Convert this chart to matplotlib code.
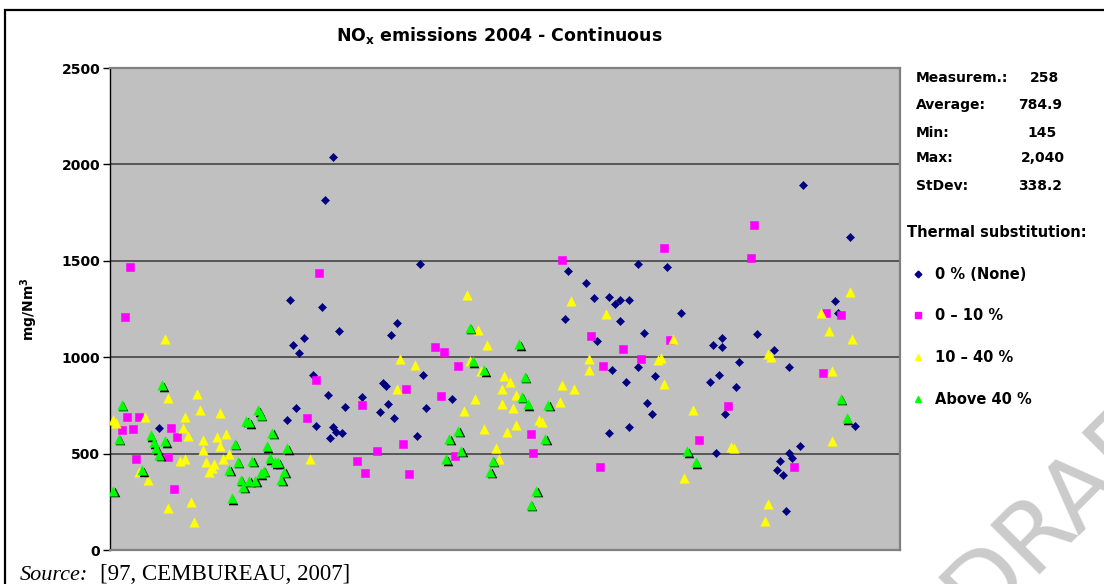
import matplotlib
matplotlib.use("Agg")
import matplotlib.pyplot as plt
import matplotlib.transforms as mtransforms
from matplotlib.lines import Line2D
from matplotlib.patches import Rectangle

plt.rcParams['font.family'] = ['DejaVu Sans']
plt.rcParams['mathtext.fontset'] = 'dejavusans'

# ---------------- data (measurement number, mg/Nm3) ----------------
title_main = "NO$_\\mathbf{x}$ emissions 2004 - Continuous"
y_label = "mg/Nm$^\\mathbf{3}$"
y_ticks = [0, 500, 1000, 1500, 2000, 2500]
series_labels = ["0 % (None)", "0 \u2013 10 %", "10 \u2013 40 %", "Above 40 %"]

none_x = [77, 74, 62, 73, 79, 67, 63, 65, 70, 75, 87, 64, 81, 61, 71, 77, 78, 80, 76, 17,
          107, 99, 97, 108, 94, 95, 96, 93, 98, 118, 109, 106,
          158, 164, 167, 172, 174, 176, 179, 157, 176, 168, 173, 178, 172, 179,
          239, 255, 182, 192, 197, 184, 223, 211, 208, 211, 229, 217, 182, 234, 188, 210,
          207, 216, 185, 187, 212, 257, 238, 234, 209, 231, 235, 230, 232, 233, 250, 251]
none_y = [2040, 1816, 1298, 1262, 1135, 1099, 1064, 1021, 908, 806, 796, 738, 744, 674, 645, 638, 614, 607, 581, 631,
          1482, 1179, 1113, 906, 867, 853, 757, 714, 686, 785, 737, 589,
          1447, 1383, 1305, 1314, 1278, 1298, 1298, 1199, 1186, 1083, 936, 872, 607, 638,
          1894, 1624, 1482, 1470, 1227, 1128, 1120, 1099, 1064, 1054, 1036, 975, 948, 948, 900, 906,
          872, 843, 764, 707, 707, 645, 537, 503, 501, 464, 478, 416, 388, 204, 1291, 1229]

low_x = [7, 5, 72, 71, 87, 68, 6, 10, 4, 8, 21, 23, 20, 9, 22, 85, 88,
         156, 112, 115, 120, 102, 114, 101, 92, 103, 166, 177, 170, 145, 146, 119, 169,
         222, 191, 221, 247, 252, 193, 183, 246, 213, 203, 236]
low_y = [1466, 1208, 1437, 882, 754, 683, 690, 690, 620, 626, 634, 586, 484, 470, 314, 463, 399,
         1503, 1052, 1026, 953, 837, 797, 549, 513, 392, 1109, 1045, 953, 603, 502, 485, 431,
         1686, 1565, 1517, 1229, 1219, 1088, 990, 919, 747, 568, 432]

mid_x = [19, 1, 2, 12, 30, 20, 31, 38, 26, 25, 27, 32, 37, 40, 38, 32, 41, 24, 26, 33,
         36, 35, 34, 39, 10, 13, 28, 20, 29, 69,
         123, 127, 130, 100, 105, 99, 124, 128, 136, 138, 135, 140, 126, 135, 139, 122, 148, 149, 140, 137,
         129, 133, 134, 156, 160, 155, 159, 171, 165, 165,
         255, 245, 248, 256, 194, 189, 190, 191, 227, 228, 249, 201, 214, 215, 198, 249, 227, 226]
mid_y = [1096, 676, 660, 692, 811, 790, 728, 712, 692, 634, 593, 570, 586, 601, 541, 520, 499, 464, 471, 456,
         444, 425, 402, 471, 407, 364, 251, 217, 145, 471,
         1324, 1140, 1062, 991, 957, 834, 979, 927, 900, 870, 835, 806, 783, 757, 737, 719, 672, 663, 650, 614,
         629, 529, 471, 856, 834, 770, 1290, 1225, 991, 936,
         1340, 1229, 1134, 1092, 1092, 986, 997, 863, 1018, 1002, 926, 728, 534, 529, 373, 563, 240, 148]

high_x = [18, 4, 3, 14, 15, 16, 19, 17, 11, 1, 51, 52, 47, 48, 56, 43, 54, 61, 55, 44,
          49, 57, 58, 41, 53, 52, 60, 45, 48, 50, 46, 59, 42,
          124, 141, 125, 129, 143, 142, 144, 151, 120, 117, 150, 121, 116, 132, 131, 147, 145,
          199, 202, 252, 254]
high_y = [854, 754, 577, 596, 560, 529, 563, 494, 414, 307, 726, 702, 671, 662, 608, 551, 537, 529, 477, 459,
          464, 456, 456, 416, 412, 399, 407, 364, 360, 360, 329, 364, 270,
          1153, 1066, 979, 932, 898, 796, 757, 754, 619, 577, 577, 516, 471, 463, 406, 307, 234,
          511, 456, 785, 685]

stats_labels = ["Measurem.:", "Average:", "Min:", "Max:", "StDev:"]
stats_values = ["258", "784.9", "145", "2,040", "338.2"]
legend_title = "Thermal substitution:"
source_label = "Source:"
source_ref = "[97, CEMBUREAU, 2007]"
watermark = "DRAFT"

# ---------------- figure ----------------
W, H = 1104, 584
fig = plt.figure(figsize=(W / 100, H / 100), dpi=100)
fig.patch.set_facecolor('white')

def fx(px):
    return px / W

def fy(py):
    return 1 - py / H

# watermark (drawn first, behind everything)
fig.text(fx(978), fy(627), watermark, rotation=45, rotation_mode='anchor', ha='left', va='baseline',
         fontsize=70, color='#cbcbcb', zorder=-1)

ax = fig.add_axes([fx(110), fy(550), fx(900) - fx(110), fy(68) - fy(550)])
ax.set_facecolor('#C0C0C0')
ax.set_xlim(0, 272.4)
ax.set_ylim(0, 2500)
ax.set_yticks(y_ticks)
ax.set_yticklabels([str(t) for t in y_ticks], fontsize=10, fontweight='bold')
ax.set_xticks([])
ax.tick_params(axis='y', direction='out', length=5, width=1, pad=2, color='black')
ax.set_axisbelow(True)
for v in y_ticks[1:-1]:
    ax.axhline(v, color='#3a3a3a', lw=1.1, zorder=0.5)

ax.spines['left'].set_color('black')
ax.spines['left'].set_linewidth(1.0)
for s in ['top', 'right', 'bottom']:
    ax.spines[s].set_color('#808080')
    ax.spines[s].set_linewidth(1.6)

ax.set_ylabel(y_label, fontsize=10, fontweight='bold')
ax.yaxis.set_label_coords((40 - 110) / 790, 0.5)

navy, mag, yel, grn = '#000080', '#FF00FF', '#FFFF00', '#00FF00'
ax.scatter(none_x, none_y, marker='D', s=17, c=navy, edgecolors=navy, linewidths=0.4, zorder=3)
ax.scatter(low_x, low_y, marker='s', s=28, c=mag, edgecolors=mag, linewidths=0.4, zorder=3)
ax.scatter(mid_x, mid_y, marker='^', s=47, c=yel, edgecolors=yel, linewidths=0.3, zorder=3)
shadow = mtransforms.offset_copy(ax.transData, fig=fig, x=1.6, y=-1.6, units='dots')
ax.scatter(high_x, high_y, marker='^', s=47, c='black', linewidths=0, transform=shadow, zorder=3)
ax.scatter(high_x, high_y, marker='^', s=47, c=grn, edgecolors=grn, linewidths=0.3, zorder=3)

# title
fig.text(fx(499), fy(36), title_main, ha='center', va='center', fontsize=12.5, fontweight='bold')

# statistics block
rows_y = [78, 105, 133, 158, 186]
val_x = [1030, 1018, 1027, 1021, 1018]
for lab, val, ry, vx in zip(stats_labels, stats_values, rows_y, val_x):
    fig.text(fx(916), fy(ry), lab, ha='left', va='center', fontsize=10, fontweight='bold')
    fig.text(fx(vx), fy(ry), val, ha='left', va='center', fontsize=10, fontweight='bold')

# legend
handles = [
    Line2D([], [], ls='none', marker='D', ms=3.4, mfc=navy, mec=navy),
    Line2D([], [], ls='none', marker='s', ms=3.8, mfc=mag, mec=mag),
    Line2D([], [], ls='none', marker='^', ms=4.4, mfc=yel, mec=yel),
    Line2D([], [], ls='none', marker='^', ms=4.4, mfc=grn, mec=grn),
]
leg = fig.legend(handles, series_labels, loc='upper left', bbox_to_anchor=(fx(907), fy(225)),
                 frameon=False, borderpad=0, borderaxespad=0, handlelength=1.5, handletextpad=0.45,
                 labelspacing=1.83, fontsize=10.5, title=legend_title,
                 title_fontproperties={'weight': 'bold', 'size': 10.5}, alignment='left')
for t in leg.get_texts():
    t.set_fontweight('bold')

# source line
fig.text(fx(20), fy(580), source_label, ha='left', va='baseline', fontsize=16,
         family='Liberation Serif', style='italic')
fig.text(fx(100), fy(580), source_ref, ha='left', va='baseline', fontsize=16.5,
         family='Liberation Serif')

# outer frame
fig.patches.append(Rectangle((fx(5), -0.2), 2.0, fy(10) + 0.2, transform=fig.transFigure,
                             fill=False, ec='black', lw=1.6, zorder=10))

fig.savefig("out.png", dpi=100, facecolor='white')
